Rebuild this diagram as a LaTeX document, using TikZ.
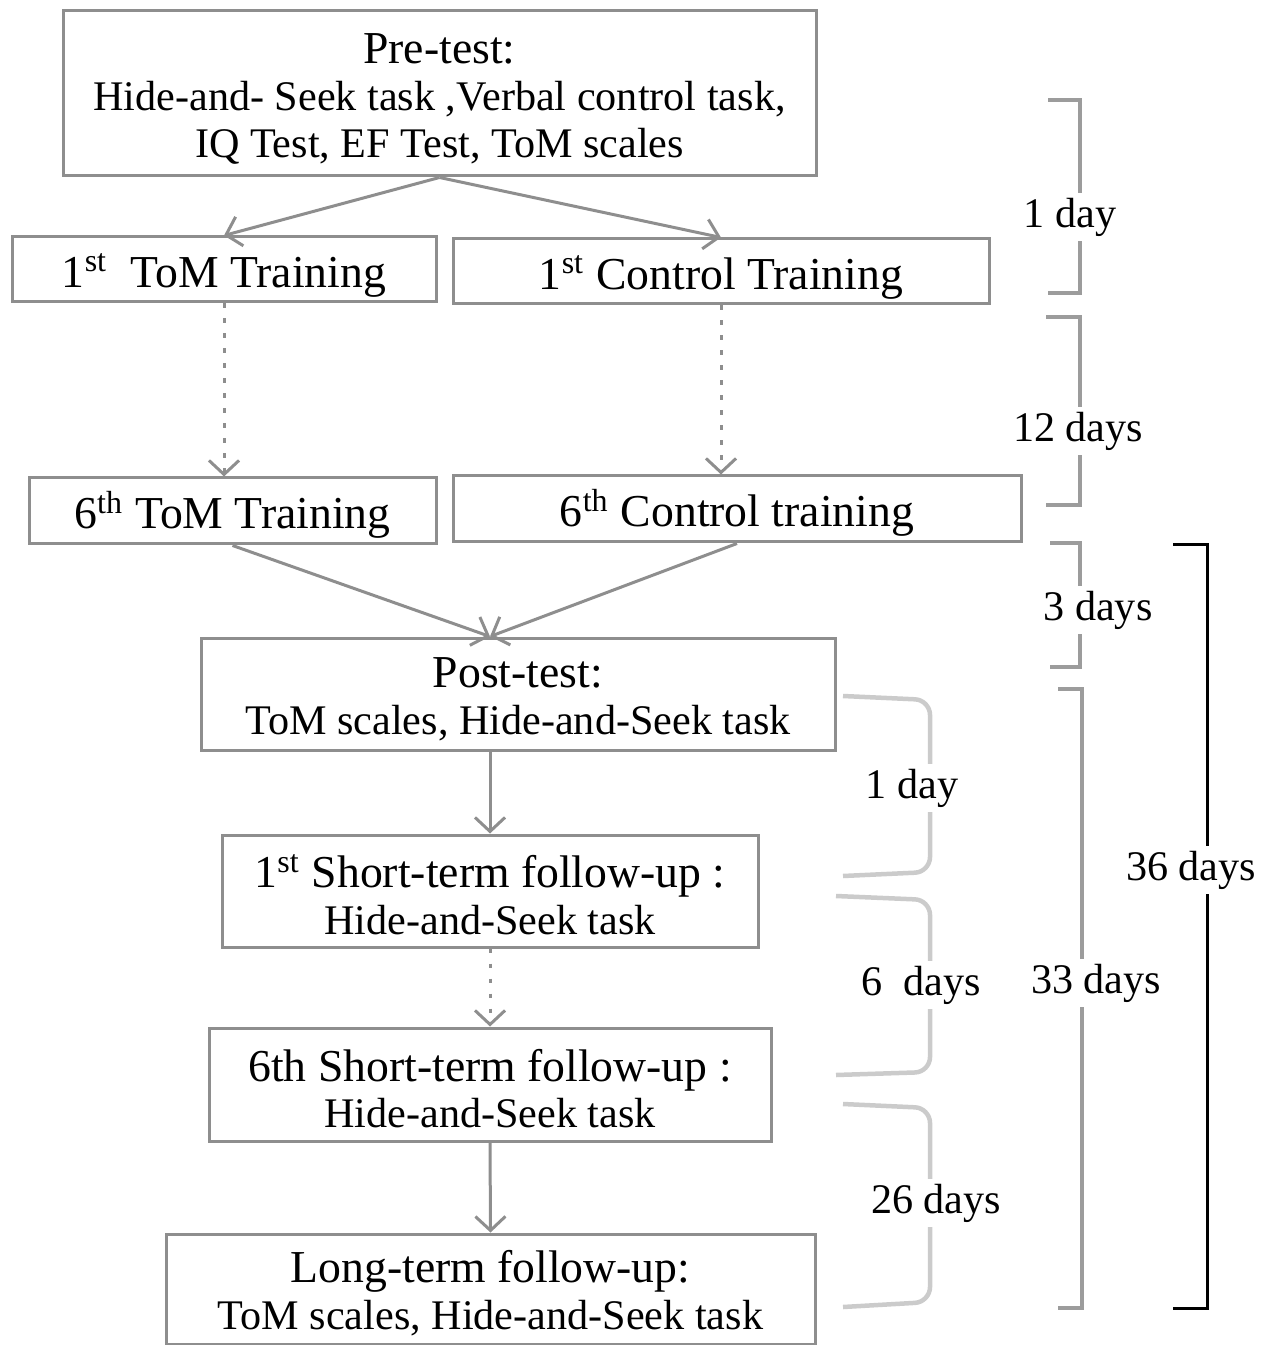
\documentclass[tikz,border=0pt]{standalone}
\usepackage{fontspec}
\setmainfont{Liberation Serif}
\usetikzlibrary{arrows.meta, positioning}

\definecolor{boxgray}{HTML}{8E8E8E}
\definecolor{spangray}{HTML}{9C9C9C}
\definecolor{lightgray}{HTML}{CBCBCB}

\newcommand{\bigtxt}{\fontsize{13}{14.5}\selectfont\rule{0pt}{11.5pt}}
\newcommand{\smalltxt}{\fontsize{12}{13.3}\selectfont}

\begin{document}
\begin{tikzpicture}[x=0.1mm, y=-0.1mm,
    box/.style={draw=boxgray, line width=0.3mm, align=center, inner sep=0pt, font=\smalltxt},
    trainbox/.style={box, font=\fontsize{13}{14.5}\selectfont, execute at begin node={\rule{0pt}{12.8pt}}},
    flow/.style={draw=boxgray, line width=0.3mm, -{Straight Barb[length=1.4mm, width=3mm]}},
    dotflow/.style={flow, dash pattern=on 0.45mm off 1.05mm},
    span/.style={draw=spangray, line width=0.4mm},
    lightspan/.style={draw=lightgray, line width=0.45mm, rounded corners=1.5mm},
    blackspan/.style={draw=black, line width=0.3mm},
    days/.style={fill=white, inner sep=1.5pt, font=\smalltxt}]

    \useasboundingbox (0,0) rectangle (1275,1345);

    % flow boxes
    \node[box, minimum width=75.3mm, minimum height=16.5mm] (pretest) at (439.5,93.5)
        {{\bigtxt Pre-test:}\\ Hide-and- Seek task ,Verbal control task,\\ IQ Test, EF Test, ToM scales};

    \node[trainbox, minimum width=42.4mm, minimum height=6.5mm] (tom1) at (224,269.5) {1\textsuperscript{st}\ \ ToM Training};
    \node[trainbox, minimum width=53.6mm, minimum height=6.5mm] (ctl1) at (721,271.5) {1\textsuperscript{st} Control Training};

    \node[trainbox, minimum width=40.7mm, minimum height=6.6mm] (tom6) at (232.5,511) {6\textsuperscript{th} ToM Training};
    \node[trainbox, minimum width=56.8mm, minimum height=6.6mm] (ctl6) at (737,509) {6\textsuperscript{th} Control training};

    \node[box, minimum width=63.4mm, minimum height=11.2mm] (posttest) at (518,694)
        {{\bigtxt Post-test:}\\ ToM scales, Hide-and-Seek task};

    \node[box, minimum width=53.6mm, minimum height=11.2mm] (short1) at (490,891)
        {{\bigtxt 1\textsuperscript{st} Short-term follow-up :}\\ Hide-and-Seek task};

    \node[box, minimum width=56.2mm, minimum height=11.3mm] (short6) at (490,1084.5)
        {{\bigtxt 6th Short-term follow-up :}\\ Hide-and-Seek task};

    \node[box, minimum width=64.9mm, minimum height=11mm] (longterm) at (490.5,1289)
        {{\bigtxt Long-term follow-up:}\\ ToM scales, Hide-and-Seek task};

    % connectors
    \draw[flow] (pretest.south) -- (tom1.north);
    \draw[flow] (pretest.south) -- (ctl1.north);
    \draw[dotflow] (tom1.south) -- (tom1.south |- tom6.north);
    \draw[dotflow] (ctl1.south) -- (ctl1.south |- ctl6.north);
    \draw[flow] (tom6.south) -- (short1.north |- posttest.north);
    \draw[flow] (ctl6.south) -- (short1.north |- posttest.north);
    \draw[flow] (short1.north |- posttest.south) -- (short1.north);
    \draw[dotflow] (short1.south) -- (short6.north);
    \draw[flow] (short6.south) -- (longterm.north);

    % time spans, right column
    \draw[span] (1048,100) -- (1080,100) -- (1080,293) -- (1048,293);
    \node[days] (d1) at (1070,217) {1 day};
    \draw[span] (1046,317) -- (1080,317) -- (1080,505) -- (1046,505);
    \node[days] (d12) at (1078,431) {12 days};
    \draw[span] (1050,543) -- (1080,543) -- (1080,667) -- (1050,667);
    \node[days] (d3) at (1098,610) {3 days};
    \draw[span] (1058,689) -- (1082,689) -- (1082,1308) -- (1058,1308);
    \node[days] (d33) at (1096,983) {33 days};
    \draw[blackspan] (1173,545) -- (1207,545) -- (1207,1308) -- (1173,1308);
    \node[days] (d36) at (1191,870) {36 days};

    % time spans, follow-up column
    \draw[lightspan] (843,696) -- (930,700) -- (930,872) -- (843,876);
    \node[days] (e1) at (912,788) {1 day};
    \draw[lightspan] (836,896) -- (930,900) -- (930,1072) -- (836,1075);
    \node[days] (e6) at (921,985) {6\ \ days};
    \draw[lightspan] (843,1104) -- (930,1108) -- (930,1302) -- (843,1307);
    \node[days] (e26) at (936,1203) {26 days};

\end{tikzpicture}
\end{document}
